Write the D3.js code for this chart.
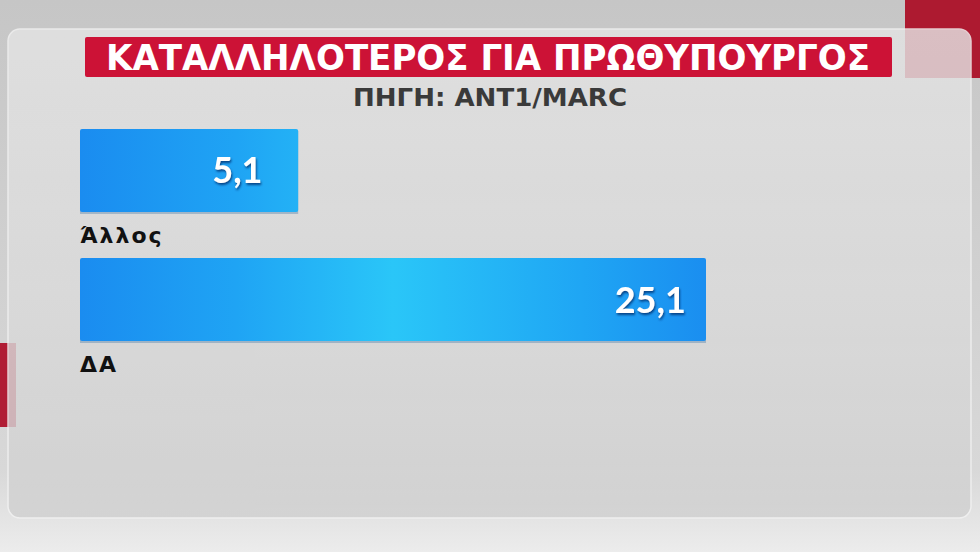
<!DOCTYPE html>
<html><head><meta charset="utf-8">
<script src="https://cdn.jsdelivr.net/npm/d3@7"></script>
<style>html,body{margin:0;padding:0;background:#c4c4c4;}svg{display:block;}</style>
</head><body>
<script>
const categories = ["Άλλος", "ΔΑ"];
const values = [5.1, 25.1];
const valueLabels = ["5,1", "25,1"];
const title = "ΚΑΤΑΛΛΗΛΟΤΕΡΟΣ ΓΙΑ ΠΡΩΘΥΠΟΥΡΓΟΣ";
const subtitle = "ΠΗΓΗ: ANT1/MARC";

const W = 980, H = 552;
const svg = d3.select("body").append("svg").attr("width", W).attr("height", H);
const defs = svg.append("defs");

const x = d3.scaleLinear().domain([-5.6, 25.1]).range([80, 706]);
const y = d3.scaleBand().domain(categories).range([129, 341]).paddingInner(0.357).paddingOuter(0);

const bg = defs.append("linearGradient").attr("id","bg").attr("x1",0).attr("y1",0).attr("x2",0).attr("y2",1);
bg.append("stop").attr("offset","0%").attr("stop-color","#c6c6c6");
bg.append("stop").attr("offset","85%").attr("stop-color","#d8d8d8");
bg.append("stop").attr("offset","100%").attr("stop-color","#ececec");
const pg = defs.append("linearGradient").attr("id","panel").attr("x1",0).attr("y1",0).attr("x2",0).attr("y2",1);
pg.append("stop").attr("offset","0%").attr("stop-color","#e4e4e4");
pg.append("stop").attr("offset","60%").attr("stop-color","#dadada");
pg.append("stop").attr("offset","100%").attr("stop-color","#d0d0d0");
const bar = defs.append("linearGradient").attr("id","bar").attr("gradientUnits","userSpaceOnUse")
  .attr("x1", x(-5.6)).attr("y1",0).attr("x2", x(25.1)).attr("y2",0);
bar.append("stop").attr("offset","0%").attr("stop-color","#1a8cf0");
bar.append("stop").attr("offset","25%").attr("stop-color","#1fa4f4");
bar.append("stop").attr("offset","50%").attr("stop-color","#2ac6f8");
bar.append("stop").attr("offset","80%").attr("stop-color","#1fa6f4");
bar.append("stop").attr("offset","100%").attr("stop-color","#1a8ef0");
const sh = defs.append("filter").attr("id","ts").attr("x","-20%").attr("y","-20%").attr("width","140%").attr("height","140%");
sh.append("feDropShadow").attr("dx",1).attr("dy",2).attr("stdDeviation",1.2).attr("flood-color","#003070").attr("flood-opacity",0.8);

// background
svg.append("rect").attr("width",W).attr("height",H).attr("fill","url(#bg)");
svg.append("rect").attr("x",905).attr("y",0).attr("width",75).attr("height",78).attr("fill","#ad1a30");
svg.append("rect").attr("x",0).attr("y",343).attr("width",16).attr("height",84).attr("fill","#b01c34");

// panel
svg.append("rect").attr("x",8).attr("y",29).attr("width",963).attr("height",489).attr("rx",12)
  .attr("fill","url(#panel)").attr("opacity",0.82).attr("stroke","#f2f2f2").attr("stroke-width",1.5);

// title
svg.append("rect").attr("x",85).attr("y",37).attr("width",807).attr("height",40).attr("rx",2).attr("fill","#cc1236");
svg.append("text").attr("x",488).attr("y",70).attr("text-anchor","middle")
  .attr("font-family","'DejaVu Sans Condensed','DejaVu Sans',sans-serif").attr("font-stretch","condensed")
  .attr("font-weight","bold").attr("font-size",35).attr("fill","#ffffff")
  .attr("textLength",764).attr("lengthAdjust","spacingAndGlyphs").text(title);
svg.append("text").attr("x",490).attr("y",106).attr("text-anchor","middle")
  .attr("font-family","'DejaVu Sans Condensed','DejaVu Sans',sans-serif").attr("font-stretch","condensed")
  .attr("font-weight","bold").attr("font-size",25).attr("fill","#3a3a3a")
  .attr("textLength",274).attr("lengthAdjust","spacingAndGlyphs").text(subtitle);

const g = svg.append("g");
const rows = g.selectAll("g.row").data(categories).join("g").attr("class","row");
const bw = i => x(values[i]) - x(-5.6);
rows.append("rect").attr("x", x(-5.6)).attr("y", d => y(d)+2)
  .attr("width", (d,i) => bw(i)).attr("height", y.bandwidth())
  .attr("fill","#5a88b0").attr("opacity",0.45);
rows.append("rect").attr("x", x(-5.6)).attr("y", d => y(d))
  .attr("width", (d,i) => bw(i)).attr("height", y.bandwidth())
  .attr("rx",2).attr("fill","url(#bar)");
rows.append("text").attr("x", (d,i) => x(values[i]) - (44 - 0.038 * bw(i)))
  .attr("y", d => y(d) + y.bandwidth()/2 + 13)
  .attr("text-anchor","end").attr("font-family","Lato,'Open Sans',sans-serif").attr("font-weight","bold")
  .attr("font-size",36).attr("fill","#ffffff").attr("filter","url(#ts)")
  .text((d,i) => valueLabels[i]);
rows.append("text").attr("x", x(-5.6)).attr("y", d => y(d) + y.bandwidth() + 31)
  .attr("font-family","'DejaVu Sans',sans-serif").attr("font-weight","bold")
  .attr("font-size",22).attr("letter-spacing",2).attr("fill","#111111").text(d => d);
</script>
</body></html>
